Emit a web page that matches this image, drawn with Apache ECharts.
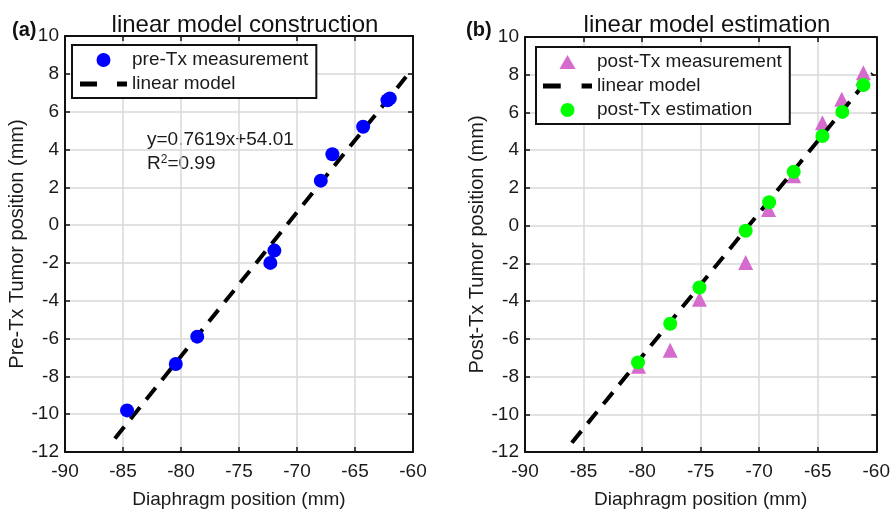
<!DOCTYPE html>
<html>
<head>
<meta charset="utf-8">
<script src="https://cdn.jsdelivr.net/npm/echarts@6/dist/echarts.min.js"></script>
<style>
  html, body { margin: 0; padding: 0; background: #fff; }
  #chart { width: 893px; height: 514px; }
</style>
</head>
<body>
<div id="chart"></div>
<script>
// panel (a): pre-Tx measurement
var preTx = [
  [-84.65, -9.8], [-80.45, -7.35], [-78.6, -5.9], [-72.3, -2.0], [-71.95, -1.35],
  [-67.95, 2.35], [-66.95, 3.75], [-64.3, 5.2], [-62.2, 6.6], [-62.0, 6.7]
]
var modelA = [[-85.7, -11.28], [-60.6, 7.84]]

// panel (b): post-Tx measurement / estimation
var postTx = [
  [-80.3, -7.45], [-77.6, -6.6], [-75.1, -3.9], [-71.15, -1.95], [-69.2, 0.85],
  [-67.05, 2.65], [-64.6, 5.45], [-62.95, 6.7], [-61.1, 8.1], [-61.15, 7.8]
]
var postEst = [
  [-80.35, -7.25], [-77.6, -5.2], [-75.1, -3.28], [-71.15, -0.27], [-69.15, 1.24],
  [-67.05, 2.86], [-64.6, 4.75], [-62.9, 6.03], [-61.1, 7.45]
]
var modelB = [[-86.0, -11.51], [-60.3, 8.07]]

var xTicks = { min: -90, max: -60, interval: 5 }
var yTicks = { min: -12, max: 10, interval: 2 }

var font = 'Liberation Sans, Arial, Helvetica, sans-serif'
var ink = '#1a1a1a'
// legend icons in the MATLAB style
var dashIcon = 'path://M0,0h17v5h-17zM37,0h10v5h-10z'
var triIcon = 'path://M0,13L7.5,0L15,13z'

function xAxisCfg(grid, pos, name) {
  var main = pos === 'bottom'
  return {
    type: 'value', gridIndex: grid, position: pos,
    min: xTicks.min, max: xTicks.max, interval: xTicks.interval,
    name: main ? name : '', nameLocation: 'middle', nameGap: 38,
    nameTextStyle: { color: ink, fontSize: 19, fontFamily: font },
    axisLine: { show: true, onZero: false, lineStyle: { color: '#111', width: 2 } },
    axisTick: { show: true, inside: true, length: 5, lineStyle: { color: '#111', width: 1.5 } },
    axisLabel: { show: main, color: ink, fontSize: 19, fontFamily: font, margin: 10 },
    splitLine: { show: main, lineStyle: { color: '#d9d9d9', width: 1.5 } }
  }
}
function yAxisCfg(grid, pos, name) {
  var main = pos === 'left'
  return {
    type: 'value', gridIndex: grid, position: pos,
    min: yTicks.min, max: yTicks.max, interval: yTicks.interval,
    name: main ? name : '', nameLocation: 'middle', nameGap: 38,
    nameTextStyle: { color: ink, fontSize: 20, fontFamily: font },
    axisLine: { show: true, onZero: false, lineStyle: { color: '#111', width: 2 } },
    axisTick: { show: true, inside: true, length: 5, lineStyle: { color: '#111', width: 1.5 } },
    axisLabel: { show: main, color: ink, fontSize: 19, fontFamily: font, margin: 6 },
    splitLine: { show: main, lineStyle: { color: '#d9d9d9', width: 1.5 } }
  }
}

var dash = { color: '#000', width: 4, type: [15, 10] }
var legendText = { color: ink, fontSize: 19, fontFamily: font, lineHeight: 22 }

var chart = echarts.init(document.getElementById('chart'))
chart.setOption({
  backgroundColor: '#fff',
  animation: false,
  title: [
    { text: 'linear model construction', left: 240, top: 8, textAlign: 'center',
      textStyle: { color: '#111', fontSize: 24, fontWeight: 'normal', fontFamily: font } },
    { text: 'linear model estimation', left: 702, top: 8, textAlign: 'center',
      textStyle: { color: '#111', fontSize: 24, fontWeight: 'normal', fontFamily: font } },
    { text: '(a)', left: 7, top: 15, textStyle: { color: '#111', fontSize: 20, fontWeight: 'bold', fontFamily: font } },
    { text: '(b)', left: 461, top: 15, textStyle: { color: '#111', fontSize: 20, fontWeight: 'bold', fontFamily: font } }
  ],
  grid: [
    { left: 65, top: 36, width: 348, height: 418 },
    { left: 525, top: 37, width: 354, height: 416 }
  ],
  xAxis: [
    xAxisCfg(0, 'bottom', 'Diaphragm position (mm)'), xAxisCfg(0, 'top'),
    xAxisCfg(1, 'bottom', 'Diaphragm position (mm)'), xAxisCfg(1, 'top')
  ],
  yAxis: [
    yAxisCfg(0, 'left', 'Pre-Tx Tumor position (mm)'), yAxisCfg(0, 'right'),
    yAxisCfg(1, 'left', 'Post-Tx Tumor position (mm)'), yAxisCfg(1, 'right')
  ],
  legend: [
    {
      data: [
        { name: 'pre-Tx measurement', icon: 'circle' },
        { name: 'linear model', icon: dashIcon, itemStyle: { color: '#000' } }
      ],
      orient: 'vertical', left: 72, top: 45,
      backgroundColor: '#fff', borderColor: '#111', borderWidth: 2,
      padding: [4, 8, 3, 8], itemGap: 2, itemWidth: 47, itemHeight: 14,
      symbolKeepAspect: true, textStyle: legendText, selectedMode: false
    },
    {
      data: [
        { name: 'post-Tx measurement', icon: triIcon },
        { name: 'linear model', icon: dashIcon, itemStyle: { color: '#000' } },
        { name: 'post-Tx estimation', icon: 'circle' }
      ],
      orient: 'vertical', left: 536, top: 47,
      backgroundColor: '#fff', borderColor: '#111', borderWidth: 2,
      padding: [4, 8, 3, 7], itemGap: 2, itemWidth: 49, itemHeight: 14,
      symbolKeepAspect: true, textStyle: legendText, selectedMode: false
    }
  ],
  graphic: [
    { type: 'text', left: 147, top: 130, style: { text: 'y=0.7619x+54.01', fill: ink, fontSize: 19, fontFamily: font } },
    { type: 'text', left: 147, top: 154, style: {
      text: 'R{sup|2}=0.99', fill: ink, fontSize: 19, fontFamily: font,
      rich: { sup: { fontSize: 12, fontFamily: font, fill: ink, verticalAlign: 'top', padding: [0, 0, 8, 0] } }
    } }
  ],
  series: [
    { name: 'linear model', type: 'line', xAxisIndex: 0, yAxisIndex: 0, data: modelA,
      symbol: 'none', lineStyle: dash, itemStyle: { color: '#000' }, z: 2 },
    { name: 'pre-Tx measurement', type: 'scatter', xAxisIndex: 0, yAxisIndex: 0, data: preTx,
      symbol: 'circle', symbolSize: 14, itemStyle: { color: '#0000ff', opacity: 1 }, z: 3 },
    { name: 'post-Tx measurement', type: 'scatter', xAxisIndex: 2, yAxisIndex: 2, data: postTx,
      symbol: 'triangle', symbolSize: 15, itemStyle: { color: '#d46bcd', opacity: 1 }, z: 2 },
    { name: 'linear model', type: 'line', xAxisIndex: 2, yAxisIndex: 2, data: modelB,
      symbol: 'none', lineStyle: dash, itemStyle: { color: '#000' }, z: 3 },
    { name: 'post-Tx estimation', type: 'scatter', xAxisIndex: 2, yAxisIndex: 2, data: postEst,
      symbol: 'circle', symbolSize: 14, itemStyle: { color: '#00ff00', opacity: 1 }, z: 4 }
  ]
})
</script>
</body>
</html>
